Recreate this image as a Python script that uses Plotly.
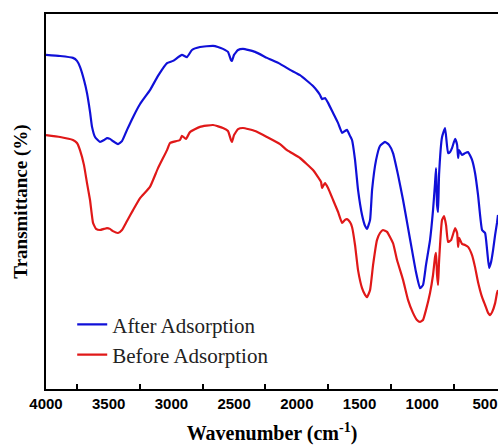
import plotly.graph_objects as go

# FTIR spectra
wn_after = [4000, 3888, 3785, 3753, 3729, 3697, 3673, 3649, 3633, 3609, 3569, 3537, 3514, 3490, 3466, 3426,
            3394, 3354, 3306, 3250, 3171, 3107, 3035, 2987, 2916, 2876, 2836, 2772, 2668, 2629, 2589, 2549,
            2525, 2517, 2501, 2469, 2429, 2333, 2238, 2134, 2054, 1975, 1871, 1831, 1815, 1799, 1775, 1751,
            1711, 1671, 1639, 1616, 1600, 1576, 1560, 1536, 1512, 1480, 1456, 1440, 1416, 1400, 1368, 1337,
            1297, 1265, 1233, 1193, 1153, 1113, 1082, 1050, 1018, 994, 970, 938, 914, 898, 890, 882, 874,
            866, 842, 818, 794, 778, 762, 738, 722, 714, 706, 683, 659, 635, 603, 579, 555, 523, 499, 483,
            467, 451, 435, 419, 404, 396]
t_after = [89.1, 88.8, 88.3, 87.5, 85.9, 82.4, 78.9, 73.9, 69.9, 67.2, 65.9, 66.4, 66.9, 66.7, 66.1, 65.3,
           66.1, 69.1, 72.5, 76.0, 79.7, 83.5, 86.9, 87.5, 89.1, 88.5, 90.4, 91.2, 91.5, 91.2, 90.7, 89.9,
           87.7, 87.5, 89.1, 90.4, 90.7, 89.9, 88.3, 86.7, 85.1, 83.7, 80.8, 79.2, 78.4, 77.3, 77.6, 76.3,
           73.6, 70.9, 68.3, 68.8, 69.1, 67.5, 66.4, 61.1, 53.1, 46.4, 43.5, 42.7, 45.1, 53.1, 61.1, 64.8,
           65.9, 65.1, 62.9, 57.1, 50.4, 42.9, 37.1, 31.2, 26.9, 27.7, 33.1, 39.7, 47.7, 54.9, 58.9, 49.1, 47.2,
           57.1, 67.2, 69.6, 62.9, 63.2, 64.3, 66.7, 65.1, 61.6, 63.7, 62.4, 62.9, 63.2, 61.1, 57.6, 51.7, 42.4, 41.6, 37.1,
           32.3, 33.9, 37.1, 41.1, 44.3, 46.4]

wn_before = [4000, 3888, 3785, 3753, 3729, 3697, 3673, 3649, 3625, 3601, 3569, 3537, 3514, 3490, 3466, 3426,
             3394, 3354, 3306, 3250, 3171, 3107, 3035, 3011, 2932, 2916, 2884, 2852, 2772, 2668, 2589, 2549,
             2525, 2517, 2501, 2469, 2429, 2333, 2238, 2134, 2078, 1975, 1871, 1831, 1807, 1799, 1791, 1775,
             1751, 1711, 1671, 1639, 1616, 1600, 1576, 1560, 1536, 1512, 1480, 1456, 1440, 1416, 1392, 1361,
             1337, 1313, 1281, 1233, 1201, 1153, 1113, 1074, 1042, 1018, 994, 970, 938, 914, 898, 890, 882,
             874, 866, 842, 826, 810, 794, 770, 738, 722, 714, 706, 683, 659, 635, 603, 579, 555, 523, 499,
             475, 459, 443, 419, 404, 396]
t_before = [67.7, 67.2, 66.4, 65.6, 63.7, 59.7, 54.9, 50.4, 44.3, 42.7, 42.4, 42.7, 42.9, 42.7, 42.1, 41.6,
            42.4, 44.8, 47.7, 50.9, 53.9, 58.9, 63.7, 65.6, 66.4, 67.5, 66.7, 68.5, 69.9, 70.4, 69.6, 68.8,
            66.4, 65.9, 67.7, 69.3, 69.6, 68.8, 67.2, 65.3, 63.7, 61.6, 58.4, 56.5, 55.2, 53.6, 54.1, 54.9,
            53.6, 50.4, 47.2, 44.3, 45.1, 45.3, 44.5, 43.2, 38.4, 31.7, 26.9, 25.1, 24.5, 26.4, 33.1, 39.7,
            41.6, 42.4, 41.9, 38.9, 34.4, 29.1, 23.7, 20.3, 18.4, 17.9, 18.4, 21.1, 25.6, 30.4, 35.2, 36.3, 30.4,
            27.7, 33.9, 45.1, 46.1, 43.7, 39.2, 39.7, 42.9, 41.6, 37.9, 40.3, 38.7, 38.4, 37.9, 35.7, 32.5, 28.5, 24.5, 22.4,
            20.3, 19.7, 20.5, 22.9, 25.6, 26.4]

x_tick_vals = [4000, 3500, 3000, 2500, 2000, 1500, 1000, 500]
x_tick_text = ["4000", "3500", "3000", "2500", "2000", "1500", "1000", "500"]
x_minor_vals = [3750, 3250, 2750, 2250, 1750, 1250, 750]

serif = "Liberation Serif, Times New Roman, serif"
sans = "Liberation Sans, Arial, sans-serif"

fig = go.Figure()
fig.add_trace(go.Scatter(x=wn_after, y=t_after, mode="lines", name="After Adsorption",
                         line=dict(color="#1010d8", width=2.2, shape="spline", smoothing=0.4)))
fig.add_trace(go.Scatter(x=wn_before, y=t_before, mode="lines", name="Before Adsorption",
                         line=dict(color="#e01818", width=2.2, shape="spline", smoothing=0.4)))

fig.update_layout(
    width=498, height=445,
    margin=dict(l=46, r=0, t=14, b=56),
    paper_bgcolor="white", plot_bgcolor="white",
    showlegend=True,
    legend=dict(x=0.058, y=0.226, xanchor="left", yanchor="top",
                font=dict(family=serif, size=21, color="#222"),
                bgcolor="rgba(0,0,0,0)", tracegroupgap=0),
    xaxis=dict(range=[4000, 396], showgrid=False, zeroline=False, automargin=False,
               showline=True, linecolor="black", linewidth=2, mirror=True,
               tickmode="array", tickvals=x_tick_vals, ticktext=x_tick_text, ticks="",
               tickfont=dict(family=sans, size=15, color="black", weight="bold"),
               minor=dict(tickmode="array", tickvals=x_minor_vals, ticks="inside",
                          ticklen=5, tickwidth=2, tickcolor="black", showgrid=False),
               title=dict(text="Wavenumber (cm<sup>-1</sup>)", standoff=15,
                          font=dict(family=serif, size=20, color="black", weight="bold"))),
    yaxis=dict(range=[0, 100], showgrid=False, zeroline=False, automargin=False,
               showline=True, linecolor="black", linewidth=2, mirror=False,
               showticklabels=False, ticks="",
               title=dict(text="Transmittance (%)", standoff=11,
                          font=dict(family=serif, size=19, color="black", weight="bold"))),
)

fig.write_html("out.html", config={"displayModeBar": False},
               post_script="document.body.style.margin='0';document.body.style.overflow='hidden';")
